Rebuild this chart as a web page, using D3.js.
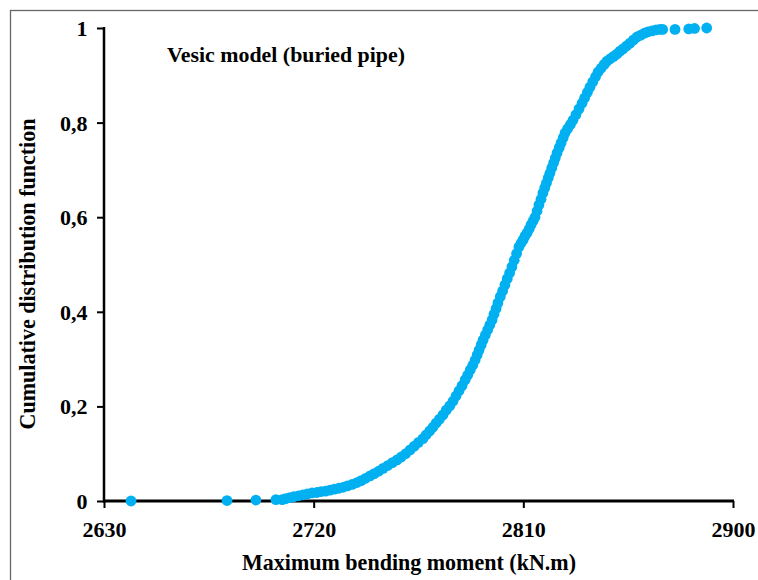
<!DOCTYPE html>
<html>
<head>
<meta charset="utf-8">
<script src="https://cdn.jsdelivr.net/npm/d3@7"></script>
<style>
  html, body { margin: 0; padding: 0; background: #fff; }
  svg { display: block; }
  text { font-family: "Liberation Serif", "Times New Roman", serif; font-weight: bold; fill: #000; }
</style>
</head>
<body>
<svg id="chart" width="758" height="580"></svg>
<script>
// ---- data ----
const momentValues = [
  2641.6, 2682.8, 2695.2, 2703.8, 2706.5, 2708.0, 2709.8, 2711.5, 2713.5, 2715.4,
  2717.3, 2719.3, 2721.4, 2723.2, 2725.1, 2727.0, 2728.9, 2730.8, 2732.6, 2734.5,
  2736.5, 2738.6, 2740.4, 2742.3, 2744.2, 2746.0, 2747.9, 2749.8, 2751.8, 2753.8,
  2755.8, 2757.6, 2759.5, 2761.4, 2763.2, 2765.0, 2766.9, 2768.3, 2769.8, 2771.2,
  2772.6, 2774.0, 2775.5, 2776.9, 2778.4, 2779.8, 2781.1, 2782.4, 2783.7, 2785.0,
  2786.1, 2787.2, 2788.3, 2789.3, 2790.2, 2791.0, 2791.9, 2792.7, 2793.7, 2794.7,
  2795.6, 2796.6, 2797.4, 2798.3, 2799.1, 2800.1, 2801.1, 2802.1, 2803.1, 2804.1,
  2805.1, 2806.1, 2807.1, 2808.1, 2809.0, 2809.9, 2810.7, 2811.6, 2812.5, 2813.3,
  2814.2, 2815.0, 2815.9, 2816.7, 2817.6, 2818.4, 2819.2, 2819.9, 2820.7, 2821.4,
  2822.2, 2823.0, 2823.7, 2824.5, 2825.4, 2826.2, 2827.1, 2827.9, 2829.0, 2830.2,
  2831.3, 2832.6, 2833.9, 2835.2, 2836.3, 2837.5, 2838.6, 2839.8, 2841.0, 2842.1,
  2843.4, 2844.7, 2845.9, 2847.3, 2848.8, 2850.2, 2851.5, 2852.8, 2854.3, 2855.8,
  2857.3, 2858.8, 2860.4, 2862.0, 2863.5, 2865.2, 2867.0, 2868.7, 2869.8, 2875.1,
  2881.0, 2883.5, 2888.7
];
const cdfValues = [
  0.000, 0.001, 0.002, 0.003, 0.003, 0.005, 0.007, 0.009, 0.011, 0.013,
  0.015, 0.017, 0.018, 0.020, 0.021, 0.023, 0.025, 0.027, 0.029, 0.032,
  0.035, 0.039, 0.043, 0.048, 0.053, 0.058, 0.063, 0.069, 0.075, 0.081,
  0.087, 0.093, 0.100, 0.108, 0.116, 0.124, 0.132, 0.140, 0.148, 0.156,
  0.165, 0.173, 0.182, 0.192, 0.201, 0.211, 0.222, 0.233, 0.244, 0.256,
  0.266, 0.277, 0.287, 0.298, 0.309, 0.319, 0.330, 0.340, 0.351, 0.362,
  0.372, 0.383, 0.395, 0.407, 0.419, 0.432, 0.444, 0.457, 0.470, 0.482,
  0.495, 0.509, 0.523, 0.537, 0.545, 0.552, 0.560, 0.567, 0.575, 0.584,
  0.592, 0.600, 0.613, 0.626, 0.638, 0.651, 0.662, 0.672, 0.683, 0.693,
  0.704, 0.715, 0.725, 0.736, 0.747, 0.757, 0.768, 0.778, 0.787, 0.796,
  0.805, 0.817, 0.829, 0.841, 0.852, 0.864, 0.875, 0.886, 0.897, 0.907,
  0.915, 0.923, 0.930, 0.935, 0.940, 0.945, 0.951, 0.956, 0.962, 0.968,
  0.975, 0.981, 0.985, 0.989, 0.992, 0.994, 0.996, 0.997, 0.997, 0.997,
  0.998, 0.999, 1.000
];
const xTickValues = [2630, 2720, 2810, 2900];
const xTickLabels = ["2630", "2720", "2810", "2900"];
const yTickValues = [0, 0.2, 0.4, 0.6, 0.8, 1];
const yTickLabels = ["0", "0,2", "0,4", "0,6", "0,8", "1"];
const xTitle = "Maximum bending moment (kN.m)";
const yTitle = "Cumulative distribution function";
const annotation = "Vesic model (buried pipe)";

// ---- drawing ----
const FONT = "'Liberation Serif', 'Times New Roman', serif";
const svg = d3.select("#chart");
svg.append("rect").attr("width", 758).attr("height", 580).attr("fill", "#fff");
svg.append("rect")
  .attr("x", 10.5).attr("y", 10.5).attr("width", 800).attr("height", 620)
  .attr("fill", "none").attr("stroke", "#666").attr("stroke-width", 1.3);

const x = d3.scaleLinear().domain([2630, 2900]).range([104, 733]);
const y = d3.scaleLinear().domain([0, 1]).range([501, 28]);

// Y axis
const yAxis = svg.append("g").attr("transform", `translate(${x(2630)},0)`)
  .call(d3.axisLeft(y).tickValues(yTickValues).tickSizeInner(7).tickSizeOuter(0)
    .tickFormat((d, i) => yTickLabels[i]));
yAxis.select(".domain").remove();
yAxis.append("line").attr("x1", 0).attr("x2", 0).attr("y1", y(1) - 1).attr("y2", y(0) + 1.5)
  .attr("stroke", "#000").attr("stroke-width", 2.5);
yAxis.selectAll(".tick line").attr("stroke", "#000").attr("stroke-width", 2);
yAxis.selectAll(".tick text")
  .attr("x", -16.5).attr("dy", null).attr("y", 7.5)
  .attr("text-anchor", "end")
  .style("font-size", "22px").style("font-family", FONT).style("font-weight", "bold");

// X axis
const xAxis = svg.append("g").attr("transform", `translate(0,${y(0)})`)
  .call(d3.axisBottom(x).tickValues(xTickValues).tickSizeInner(7).tickSizeOuter(0)
    .tickFormat((d, i) => xTickLabels[i]));
xAxis.select(".domain").remove();
xAxis.append("line").attr("x1", x(2630) - 1).attr("x2", x(2900) + 1).attr("y1", 0).attr("y2", 0)
  .attr("stroke", "#000").attr("stroke-width", 3);
xAxis.selectAll(".tick line").attr("stroke", "#000").attr("stroke-width", 2);
xAxis.selectAll(".tick text")
  .attr("y", 36).attr("dy", null)
  .style("font-size", "22px").style("font-family", FONT).style("font-weight", "bold");

// points
const pts = momentValues.map((v, i) => ({ v, c: cdfValues[i] }));
svg.append("g").selectAll("circle").data(pts).join("circle")
  .attr("cx", d => x(d.v)).attr("cy", d => y(d.c)).attr("r", 5.4)
  .attr("fill", "#00B0F0");

// titles
svg.append("text").attr("x", 409).attr("y", 570).attr("text-anchor", "middle")
  .attr("textLength", 334).attr("lengthAdjust", "spacingAndGlyphs")
  .style("font-size", "23px").text(xTitle);
svg.append("text").attr("transform", "translate(35,274) rotate(-90)").attr("text-anchor", "middle")
  .attr("textLength", 311).attr("lengthAdjust", "spacingAndGlyphs")
  .style("font-size", "23px").text(yTitle);
svg.append("text").attr("x", 167).attr("y", 62)
  .attr("textLength", 238).attr("lengthAdjust", "spacingAndGlyphs")
  .style("font-size", "22px").text(annotation);
</script>
</body>
</html>
